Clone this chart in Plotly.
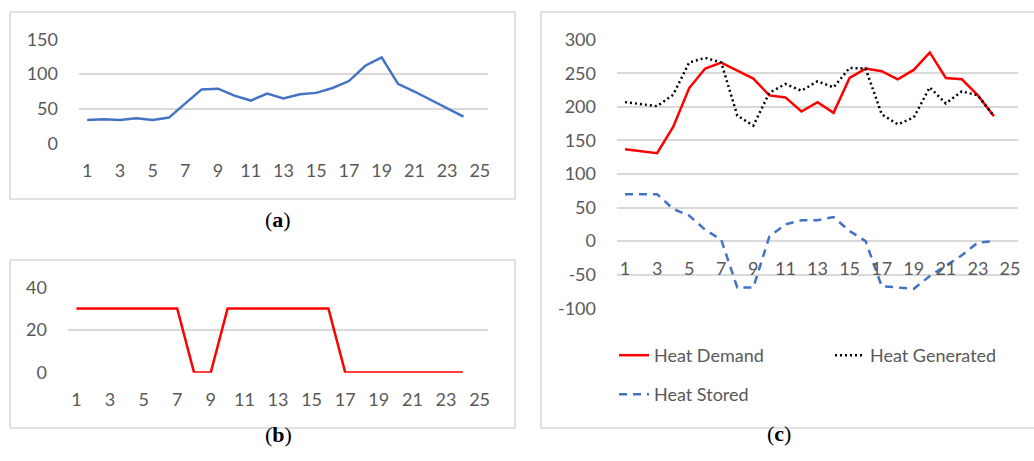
import plotly.graph_objects as go

# ---------------- data ----------------
hours = list(range(1, 25))
x_ticks = list(range(1, 26, 2))

panel_a = [34, 35, 34, 36.5, 34, 37.5, 58, 78, 79, 69, 62, 72, 65, 71, 73, 80,
           90, 112, 124, 86, 75, 63, 52, 39]
panel_b = [30, 30, 30, 30, 30, 30, 30, 0, 0, 30, 30, 30, 30, 30, 30, 30,
           0, 0, 0, 0, 0, 0, 0, 0]
heat_demand = [137, 134, 131, 170, 228, 257, 266, 254, 242, 217, 214, 193, 207, 191,
               243, 257, 253, 241, 255, 281, 243, 241, 217, 186]
heat_generated = [207, 204, 201, 218, 266, 273, 266, 187, 172, 221, 234, 224, 238, 229,
                  258, 257, 189, 174, 184, 229, 205, 223, 217, 186]
heat_stored = [70, 70, 70, 48, 38, 17, 2, -69, -69, 7, 25, 31, 31, 36,
               15, 0, -67, -69, -71, -52, -37, -21, -2, 0]

yticks_a = [0, 50, 100, 150]
yticks_b = [0, 20, 40]
yticks_c = [-100, -50, 0, 50, 100, 150, 200, 250, 300]

# ---------------- layout helpers ----------------
W, H = 1034, 461
def px(x):
    return x / W
def py(y):
    return 1 - y / H

GRID = "#d9d9d9"
TXT = "#595959"
FONT = "Lato"
BLUE = "#4472C4"
RED = "#FF0000"

fig = go.Figure()

fig.add_trace(go.Scatter(x=hours, y=panel_a, mode="lines", xaxis="x", yaxis="y",
                         line=dict(color=BLUE, width=2.5), showlegend=False))
fig.add_trace(go.Scatter(x=hours, y=panel_b, mode="lines", xaxis="x2", yaxis="y2",
                         line=dict(color=RED, width=2.5), showlegend=False))
fig.add_trace(go.Scatter(x=hours, y=heat_demand, mode="lines", xaxis="x3", yaxis="y3",
                         name="Heat Demand", legend="legend", legendwidth=171,
                         line=dict(color=RED, width=2.5)))
fig.add_trace(go.Scatter(x=hours, y=heat_generated, mode="lines", xaxis="x3", yaxis="y3",
                         name="Heat Generated", legend="legend", legendwidth=120,
                         line=dict(color="#000000", width=2.5, dash="2px,3px")))
fig.add_trace(go.Scatter(x=hours, y=heat_stored, mode="lines", xaxis="x3", yaxis="y3",
                         name="Heat Stored", legend="legend2",
                         line=dict(color=BLUE, width=2.5, dash="8px,6px")))

tickfont = dict(family=FONT, size=18, color=TXT)

def xax(domain, anchor, position=None):
    d = dict(domain=domain, range=[0.5, 25.5], tickmode="array", tickvals=x_ticks,
             ticktext=[str(t) for t in x_ticks], showgrid=False, zeroline=False,
             showline=False, ticks="", tickfont=tickfont, ticklabelstandoff=14,
             fixedrange=True, automargin=False)
    if position is None:
        d["anchor"] = anchor
    else:
        d["anchor"] = "free"
        d["position"] = position
    return d

def yax(domain, rng, vals, anchor):
    return dict(domain=domain, range=rng, tickmode="array", tickvals=vals,
                ticktext=[str(v) for v in vals], showgrid=True, gridcolor=GRID,
                gridwidth=1.5, zeroline=False, showline=False, ticks="",
                tickfont=tickfont, ticklabelstandoff=20, anchor=anchor,
                fixedrange=True, automargin=False)

label_font = dict(family="Liberation Serif", size=22, color="#000000")

fig.update_layout(
    width=W, height=H,
    margin=dict(l=0, r=0, t=0, b=0, autoexpand=False),
    paper_bgcolor="white", plot_bgcolor="white",
    font=dict(family=FONT, color=TXT),
    xaxis=xax([px(79), px(488)], "y"),
    yaxis=yax([py(144), py(39)], [-0.4, 150.4], yticks_a, "x"),
    xaxis2=xax([px(68), px(488)], "y2"),
    yaxis2=yax([py(372.7), py(287)], [-0.12, 40.12], yticks_b, "x2"),
    xaxis3=xax([px(617), px(1018)], None, position=py(241.7)),
    yaxis3=yax([py(309), py(39)], [-101, 301], yticks_c, "x3"),
    legend=dict(orientation="h", x=px(614), y=py(337), xanchor="left", yanchor="top",
                font=dict(family=FONT, size=18, color=TXT), bgcolor="rgba(0,0,0,0)",
                entrywidthmode="pixels"),
    legend2=dict(orientation="h", x=px(614), y=py(376), xanchor="left", yanchor="top",
                 font=dict(family=FONT, size=18, color=TXT), bgcolor="rgba(0,0,0,0)"),
    shapes=[
        dict(type="rect", xref="paper", yref="paper", x0=px(10), x1=px(515),
             y0=py(199), y1=py(12), line=dict(color=GRID, width=1.5), layer="below"),
        dict(type="rect", xref="paper", yref="paper", x0=px(10), x1=px(515),
             y0=py(428), y1=py(260), line=dict(color=GRID, width=1.5), layer="below"),
        dict(type="rect", xref="paper", yref="paper", x0=px(541), x1=px(1040),
             y0=py(428), y1=py(12), line=dict(color=GRID, width=1.5), layer="below"),
    ],
    annotations=[
        dict(text="(<b>a</b>)", x=px(263), y=py(220), xref="paper", yref="paper",
             showarrow=False, font=label_font),
        dict(text="(<b>b</b>)", x=px(263), y=py(449), xref="paper", yref="paper",
             showarrow=False, font=label_font),
        dict(text="(<b>c</b>)", x=px(793), y=py(448), xref="paper", yref="paper",
             showarrow=False, font=label_font),
    ],
)

fig.write_html(
    "out.html",
    config={"displayModeBar": False},
    post_script="document.body.style.margin='0';document.body.style.overflow='hidden';"
                "document.documentElement.style.overflow='hidden';",
)
